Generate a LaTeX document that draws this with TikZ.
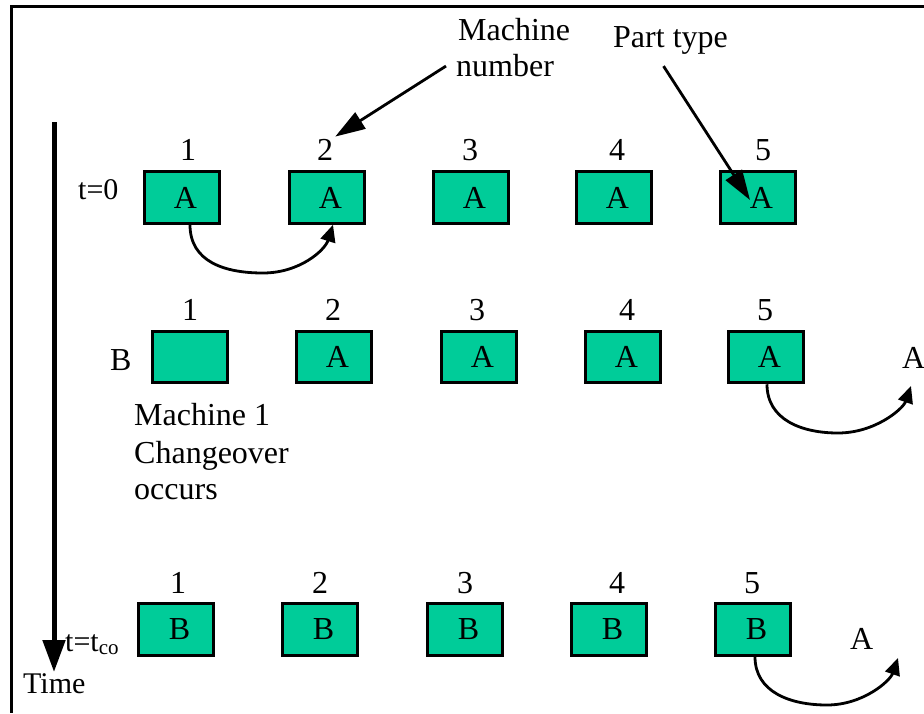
\documentclass[tikz,border=0pt]{standalone}
\usepackage{fontspec}
\setmainfont{Liberation Serif}
\usetikzlibrary{arrows.meta}
\definecolor{boxgreen}{HTML}{00CC99}
\begin{document}
\begin{tikzpicture}[x=1pt,y=-1pt,
  mbox/.style={draw=black, fill=boxgreen, line width=3pt, minimum width=75.5pt, minimum height=51.5pt, inner sep=0pt, font=\fontsize{32}{38}\selectfont},
  num/.style={anchor=base, inner sep=0pt, font=\fontsize{32}{38}\selectfont},
  lbl/.style={anchor=base west, inner sep=0pt, font=\fontsize{32}{38}\selectfont},
  slbl/.style={anchor=base west, inner sep=0pt, font=\fontsize{30}{36}\selectfont},
  conn/.style={line width=2.8pt, -{Triangle[length=17pt,width=15pt]}},
  callout/.style={line width=2.8pt, -{Triangle[length=30pt,width=19pt]}},
  timearrow/.style={line width=5pt, -{Triangle[length=32pt,width=22pt]}},
  frameline/.style={line width=3pt}
]
\useasboundingbox (0,0) rectangle (924,713);

% frame
\coordinate (fr1) at (924,6);
\coordinate (fr2) at (11,6);
\coordinate (fr3) at (11,713);
\draw[frameline] (fr1) -- (fr2) -- (fr3);

% time axis
\coordinate (ttop) at (54,122);
\coordinate (ttip) at (54,672);
\draw[timearrow] (ttop) -- (ttip);
\node[slbl] (time) at (23,693) {Time};

% callout labels
\node[lbl] (mach) at (458,40) {Machine};
\node[lbl] (mnum) at (456,76) {number};
\node[lbl] (ptype) at (613,47) {Part type};

% row 1 (t=0)
\node[slbl] (t0) at (78,199) {t=0};
\node[mbox] (b11) at (182,197.5) {\kern7pt A};
\node[mbox] (b12) at (327,197.5) {\kern7pt A};
\node[mbox] (b13) at (471,197.5) {\kern7pt A};
\node[mbox] (b14) at (614,197.5) {\kern7pt A};
\node[mbox] (b15) at (758,197.5) {\kern7pt A};
\node[num] (n11) at (188,160) {1};
\node[num] (n12) at (325,160) {2};
\node[num] (n13) at (470,160) {3};
\node[num] (n14) at (617,160) {4};
\node[num] (n15) at (763,160) {5};

% row 2
\node[lbl] (lb2) at (110,370) {B};
\node[mbox] (b21) at (190,357) {};
\node[mbox] (b22) at (334,357) {\kern7pt A};
\node[mbox] (b23) at (479,357) {\kern7pt A};
\node[mbox] (b24) at (623,357) {\kern7pt A};
\node[mbox] (b25) at (766,357) {\kern7pt A};
\node[num] (n21) at (190,320) {1};
\node[num] (n22) at (333,320) {2};
\node[num] (n23) at (477,320) {3};
\node[num] (n24) at (627,320) {4};
\node[num] (n25) at (765,320) {5};
\node[lbl] (ra2) at (902,368) {A};
\node[lbl] (co1) at (134,425) {Machine 1};
\node[lbl] (co2) at (134,463) {Changeover};
\node[lbl] (co3) at (134,499) {occurs};

% row 3
\node[slbl] (tco) at (65,651) {t=t\textsubscript{co}};
\node[mbox] (b31) at (176,629.5) {\kern7pt B};
\node[mbox] (b32) at (320,629.5) {\kern7pt B};
\node[mbox] (b33) at (465,629.5) {\kern7pt B};
\node[mbox] (b34) at (609,629.5) {\kern7pt B};
\node[mbox] (b35) at (753,629.5) {\kern7pt B};
\node[num] (n31) at (178,593) {1};
\node[num] (n32) at (320,593) {2};
\node[num] (n33) at (465,593) {3};
\node[num] (n34) at (617,593) {4};
\node[num] (n35) at (752,593) {5};
\node[lbl] (ra3) at (850,649) {A};

% callout arrows
\draw[callout] ([xshift=-10pt,yshift=-1pt]mnum.west) -- ([xshift=2pt,yshift=2pt]n12.north east);
\draw[callout] ([xshift=-7pt,yshift=-12pt]ptype.south) -- ([xshift=-8pt,yshift=-2.5pt]b15.center);

% part flow arrows
\draw[conn] ([xshift=8pt]b11.south) .. controls (190,262) and (225,273) .. (263,273)
  .. controls (300,273) and (325,250) .. ([xshift=6pt]b12.south);
\coordinate (ta2) at (911,386);
\draw[conn] ([xshift=1pt]b25.south) .. controls (767,420) and (802,433) .. (838,433)
  .. controls (875,433) and (903,409) .. (ta2);
\coordinate (ta3) at (898,658);
\draw[conn] ([xshift=2pt]b35.south) .. controls (755,692) and (790,705) .. (827,705)
  .. controls (863,705) and (890,681) .. (ta3);
\end{tikzpicture}
\end{document}
